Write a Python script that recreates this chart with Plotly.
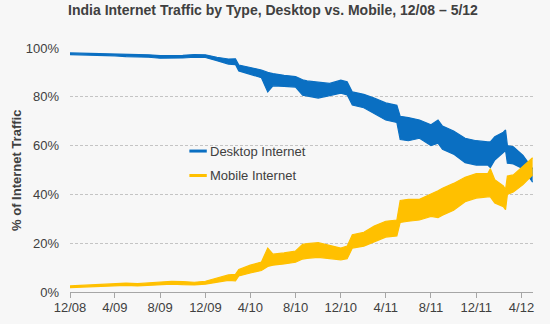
import plotly.graph_objects as go

# ---- data ----
dates = ["2008-12-01", "2009-01-01", "2009-02-01", "2009-03-01", "2009-04-01", "2009-05-01",
         "2009-06-01", "2009-07-01", "2009-08-01", "2009-09-01", "2009-10-01", "2009-11-01",
         "2009-12-01", "2010-01-01", "2010-02-01", "2010-02-20", "2010-03-01", "2010-04-01",
         "2010-05-01", "2010-05-18", "2010-06-01", "2010-07-01", "2010-08-01", "2010-08-20",
         "2010-09-01", "2010-10-01", "2010-11-01", "2010-12-01", "2010-12-18", "2011-01-01",
         "2011-02-01", "2011-03-01", "2011-04-01", "2011-05-01", "2011-05-10", "2011-06-01",
         "2011-07-01", "2011-08-01", "2011-08-20", "2011-09-01", "2011-10-01", "2011-11-01",
         "2011-12-01", "2012-01-01", "2012-01-08", "2012-01-20", "2012-02-12", "2012-02-18",
         "2012-02-23", "2012-03-10", "2012-04-05", "2012-05-01"]

desktop_hi = [98.0, 97.9, 97.7, 97.6, 97.7, 97.4, 97.3, 97.2, 96.9, 96.8, 97.0, 97.3,
              97.2, 96.2, 95.5, 95.6, 93.0, 92.0, 91.0, 90.0, 89.5, 88.8, 88.3, 87.0,
              86.5, 86.0, 85.5, 86.8, 86.2, 82.0, 81.0, 79.5, 77.5, 76.5, 72.0, 71.5,
              70.5, 68.5, 70.5, 68.0, 66.0, 63.0, 62.0, 61.5, 61.5, 63.6, 65.5, 66.4,
              60.0, 59.5, 56.0, 50.5]
desktop_lo = [97.3, 97.2, 96.9, 96.8, 96.8, 96.5, 96.4, 96.2, 95.8, 95.7, 95.9, 96.2,
              96.1, 94.8, 93.4, 93.2, 90.6, 89.2, 87.8, 82.0, 84.5, 84.3, 84.0, 80.7,
              80.3, 79.5, 80.5, 81.5, 80.8, 76.6, 75.5, 73.0, 70.5, 69.5, 62.5, 62.0,
              63.0, 60.0, 61.0, 58.5, 56.5, 53.0, 52.0, 52.0, 51.0, 54.1, 57.5, 58.0,
              52.8, 52.5, 50.5, 45.0]
mobile_hi = [2.5, 2.7, 3.0, 3.2, 3.4, 3.6, 3.4, 3.8, 4.2, 4.4, 4.3, 4.0,
             4.4, 5.6, 7.0, 7.2, 9.2, 11.0, 12.3, 18.0, 15.5, 16.0, 16.8, 19.5,
             19.8, 20.2, 19.0, 18.0, 18.8, 23.5, 24.5, 27.0, 29.0, 29.5, 37.5, 38.0,
             38.0, 40.0, 41.5, 42.5, 44.5, 47.0, 48.5, 48.5, 50.5, 46.0, 43.5, 42.0,
             47.5, 48.0, 51.5, 55.0]
mobile_lo = [1.8, 2.0, 2.2, 2.4, 2.5, 2.7, 2.5, 2.8, 3.1, 3.2, 3.0, 2.9,
             3.2, 4.0, 4.8, 4.6, 6.6, 7.8, 8.8, 10.5, 11.0, 11.5, 12.2, 13.5,
             13.8, 14.2, 13.8, 13.2, 13.6, 18.0, 18.8, 20.5, 22.5, 23.0, 28.5, 29.0,
             29.5, 31.0, 30.5, 31.5, 33.5, 37.0, 38.5, 39.0, 39.0, 36.5, 35.0, 33.7,
             40.0, 41.0, 44.0, 48.0]

tick_dates = ["2008-12-01", "2009-04-01", "2009-08-01", "2009-12-01", "2010-04-01", "2010-08-01",
              "2010-12-01", "2011-04-01", "2011-08-01", "2011-12-01", "2012-04-01"]
tick_labels = ["12/08", "4/09", "8/09", "12/09", "4/10", "8/10",
               "12/10", "4/11", "8/11", "12/11", "4/12"]
y_ticks = [0, 20, 40, 60, 80, 100]
y_labels = ["0%", "20%", "40%", "60%", "80%", "100%"]

series = [("Desktop Internet", desktop_hi, desktop_lo, "#0A6FC2"),
          ("Mobile Internet", mobile_hi, mobile_lo, "#FFC000")]

FONT = "Arial, Liberation Sans, sans-serif"
BG = "#F7F7F7"

fig = go.Figure()
for name, hi, lo, col in series:
    fig.add_trace(go.Scatter(x=dates, y=lo, mode="lines", line=dict(color=col, width=1.2),
                             showlegend=False, hoverinfo="skip", name=name))
    fig.add_trace(go.Scatter(x=dates, y=hi, mode="lines", line=dict(color=col, width=1.2),
                             fill="tonexty", fillcolor=col, showlegend=False, name=name))

# plot-area geometry helpers (paper coords)
L, R, T, B = 70, 532.7, 47.7, 292.3
def px(x):
    return (x - L) / (R - L)
def py(y):
    return (B - y) / (B - T)

shapes = [
    # cover of the 60% gridline behind the legend
    dict(type="rect", xref="paper", yref="y", x0=px(147), x1=px(348), y0=57.5, y1=62.5,
         fillcolor=BG, line=dict(width=0), layer="between"),
]
annotations = []
for i, (name, hi, lo, col) in enumerate(series):
    yy = [151, 175.5][i]
    shapes.append(dict(type="line", xref="paper", yref="paper", x0=px(189.3), x1=px(206.7),
                       y0=py(yy), y1=py(yy), line=dict(color=col, width=3), layer="above"))
    annotations.append(dict(xref="paper", yref="paper", x=px(208), y=py(yy), xanchor="left",
                            yanchor="middle", text=name, showarrow=False,
                            font=dict(family=FONT, size=13, color="#404040")))

annotations.append(dict(xref="paper", yref="paper", x=px(16), y=0.5, xanchor="center",
                        yanchor="middle", textangle=-90, text="<b>% of Internet Traffic</b>",
                        showarrow=False, font=dict(family=FONT, size=13, color="#404040")))

fig.update_layout(
    width=550, height=324,
    margin=dict(l=L, r=550 - R, t=T, b=324 - B, pad=0, autoexpand=False),
    paper_bgcolor=BG, plot_bgcolor=BG,
    title=dict(text="<b>India Internet Traffic by Type, Desktop vs. Mobile, 12/08 – 5/12</b>",
               x=273 / 550, xref="container", xanchor="center",
               y=1 - 10.5 / 324, yref="container", yanchor="middle",
               font=dict(family=FONT, size=14, color="#404040")),
    shapes=shapes, annotations=annotations,
    showlegend=False,
)
fig.update_xaxes(type="date", range=["2008-12-01", "2012-05-02"], automargin=False,
                 tickvals=tick_dates, ticktext=tick_labels,
                 showgrid=False, showline=True, linecolor="#A6A6A6", linewidth=1,
                 ticks="outside", ticklen=5, tickcolor="#A6A6A6", ticklabelstandoff=-2,
                 tickfont=dict(family=FONT, size=13, color="#404040"), zeroline=False)
fig.update_yaxes(range=[0, 100], tickvals=y_ticks, ticktext=y_labels, automargin=False,
                 showgrid=True, gridcolor="#C4C4C4", gridwidth=1, griddash="3px,2px",
                 showline=False, zeroline=False, ticks="", ticklabelstandoff=10,
                 tickfont=dict(family=FONT, size=13, color="#404040"))

fig.write_html("out.html")
